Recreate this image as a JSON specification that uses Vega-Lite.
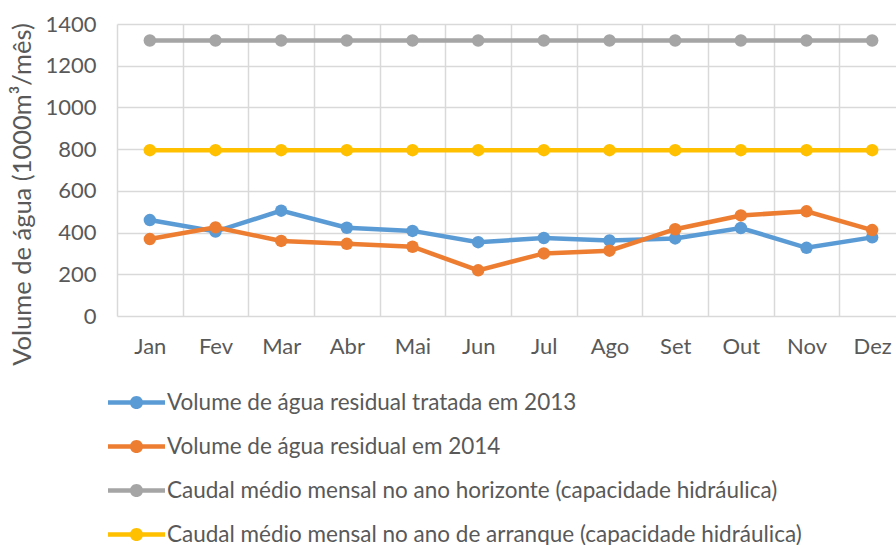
{
  "$schema": "https://vega.github.io/schema/vega-lite/v6.json",
  "autosize": "none",
  "padding": {"left": 117, "top": 24, "right": 0, "bottom": 229},
  "width": 779,
  "height": 292,
  "background": "white",
  "data": {"values": [
    {"month": "Jan", "series": "Volume de água residual tratada em 2013", "value": 460},
    {"month": "Fev", "series": "Volume de água residual tratada em 2013", "value": 405},
    {"month": "Mar", "series": "Volume de água residual tratada em 2013", "value": 505},
    {"month": "Abr", "series": "Volume de água residual tratada em 2013", "value": 423},
    {"month": "Mai", "series": "Volume de água residual tratada em 2013", "value": 408},
    {"month": "Jun", "series": "Volume de água residual tratada em 2013", "value": 354},
    {"month": "Jul", "series": "Volume de água residual tratada em 2013", "value": 374},
    {"month": "Ago", "series": "Volume de água residual tratada em 2013", "value": 362},
    {"month": "Set", "series": "Volume de água residual tratada em 2013", "value": 372},
    {"month": "Out", "series": "Volume de água residual tratada em 2013", "value": 422},
    {"month": "Nov", "series": "Volume de água residual tratada em 2013", "value": 327},
    {"month": "Dez", "series": "Volume de água residual tratada em 2013", "value": 377},
    {"month": "Jan", "series": "Volume de água residual em 2014", "value": 369},
    {"month": "Fev", "series": "Volume de água residual em 2014", "value": 425},
    {"month": "Mar", "series": "Volume de água residual em 2014", "value": 360},
    {"month": "Abr", "series": "Volume de água residual em 2014", "value": 346},
    {"month": "Mai", "series": "Volume de água residual em 2014", "value": 332},
    {"month": "Jun", "series": "Volume de água residual em 2014", "value": 219},
    {"month": "Jul", "series": "Volume de água residual em 2014", "value": 300},
    {"month": "Ago", "series": "Volume de água residual em 2014", "value": 313},
    {"month": "Set", "series": "Volume de água residual em 2014", "value": 416},
    {"month": "Out", "series": "Volume de água residual em 2014", "value": 482},
    {"month": "Nov", "series": "Volume de água residual em 2014", "value": 502},
    {"month": "Dez", "series": "Volume de água residual em 2014", "value": 412},
    {"month": "Jan", "series": "Caudal médio mensal no ano horizonte (capacidade hidráulica)", "value": 1321},
    {"month": "Fev", "series": "Caudal médio mensal no ano horizonte (capacidade hidráulica)", "value": 1321},
    {"month": "Mar", "series": "Caudal médio mensal no ano horizonte (capacidade hidráulica)", "value": 1321},
    {"month": "Abr", "series": "Caudal médio mensal no ano horizonte (capacidade hidráulica)", "value": 1321},
    {"month": "Mai", "series": "Caudal médio mensal no ano horizonte (capacidade hidráulica)", "value": 1321},
    {"month": "Jun", "series": "Caudal médio mensal no ano horizonte (capacidade hidráulica)", "value": 1321},
    {"month": "Jul", "series": "Caudal médio mensal no ano horizonte (capacidade hidráulica)", "value": 1321},
    {"month": "Ago", "series": "Caudal médio mensal no ano horizonte (capacidade hidráulica)", "value": 1321},
    {"month": "Set", "series": "Caudal médio mensal no ano horizonte (capacidade hidráulica)", "value": 1321},
    {"month": "Out", "series": "Caudal médio mensal no ano horizonte (capacidade hidráulica)", "value": 1321},
    {"month": "Nov", "series": "Caudal médio mensal no ano horizonte (capacidade hidráulica)", "value": 1321},
    {"month": "Dez", "series": "Caudal médio mensal no ano horizonte (capacidade hidráulica)", "value": 1321},
    {"month": "Jan", "series": "Caudal médio mensal no ano de arranque (capacidade hidráulica)", "value": 795},
    {"month": "Fev", "series": "Caudal médio mensal no ano de arranque (capacidade hidráulica)", "value": 795},
    {"month": "Mar", "series": "Caudal médio mensal no ano de arranque (capacidade hidráulica)", "value": 795},
    {"month": "Abr", "series": "Caudal médio mensal no ano de arranque (capacidade hidráulica)", "value": 795},
    {"month": "Mai", "series": "Caudal médio mensal no ano de arranque (capacidade hidráulica)", "value": 795},
    {"month": "Jun", "series": "Caudal médio mensal no ano de arranque (capacidade hidráulica)", "value": 795},
    {"month": "Jul", "series": "Caudal médio mensal no ano de arranque (capacidade hidráulica)", "value": 795},
    {"month": "Ago", "series": "Caudal médio mensal no ano de arranque (capacidade hidráulica)", "value": 795},
    {"month": "Set", "series": "Caudal médio mensal no ano de arranque (capacidade hidráulica)", "value": 795},
    {"month": "Out", "series": "Caudal médio mensal no ano de arranque (capacidade hidráulica)", "value": 795},
    {"month": "Nov", "series": "Caudal médio mensal no ano de arranque (capacidade hidráulica)", "value": 795},
    {"month": "Dez", "series": "Caudal médio mensal no ano de arranque (capacidade hidráulica)", "value": 795}
  ]},
  "encoding": {
    "x": {
      "field": "month", "type": "nominal", "sort": null,
      "scale": {"range": [0, 788], "paddingInner": 0, "paddingOuter": 0},
      "axis": {"title": null, "labelAngle": 0, "tickBand": "extent", "ticks": false, "domain": false,
               "grid": true, "labelPadding": 20}
    },
    "y": {
      "field": "value", "type": "quantitative",
      "scale": {"domain": [0, 1400], "nice": false},
      "axis": {"values": [0, 200, 400, 600, 800, 1000, 1200, 1400], "format": "d", "ticks": false, "domain": false,
               "labelPadding": 21, "title": "Volume de água (1000m³/mês)",
               "titleAngle": -90, "titleX": -95, "titleY": 170, "titleAlign": "center", "titleBaseline": "middle",
               "titleFontSize": 25.5, "titleFontWeight": "normal"}
    },
    "color": {
      "field": "series", "type": "nominal", "sort": null,
      "scale": {
        "domain": ["Volume de água residual tratada em 2013", "Volume de água residual em 2014", "Caudal médio mensal no ano horizonte (capacidade hidráulica)", "Caudal médio mensal no ano de arranque (capacidade hidráulica)"],
        "range": ["#5B9BD5", "#ED7D31", "#A5A5A5", "#FFC000"]
      },
      "legend": {
        "title": null, "orient": "none", "legendX": -9, "legendY": 350, "direction": "vertical",
        "symbolType": "M-1,-0.079H1V0.079H-1Z M0.23,0A0.23,0.23,0,1,1,-0.23,0A0.23,0.23,0,1,1,0.23,0Z",
        "symbolSize": 3249, "symbolStrokeWidth": 0, "labelOffset": 2, "rowPadding": 4,
        "labelFontSize": 22.5, "labelLimit": 900,
        "encode": {"symbols": {"update": {"fill": {"scale": "color", "field": "value"}, "fillOpacity": {"value": 1}}}}
      }
    }
  },
  "layer": [
    {"mark": {"type": "line", "strokeWidth": 4.5}},
    {"mark": {"type": "point", "filled": true, "size": 155, "opacity": 1}}
  ],
  "config": {
    "font": "Lato",
    "view": {"stroke": null},
    "axis": {"labelFontSize": 22, "labelColor": "#595959", "titleColor": "#595959", "gridColor": "#D9D9D9", "gridWidth": 1.5},
    "legend": {"labelColor": "#595959"}
  }
}
